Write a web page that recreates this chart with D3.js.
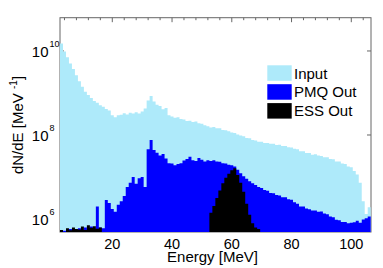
<!DOCTYPE html>
<html>
<head>
<meta charset="utf-8">
<script src="https://cdn.jsdelivr.net/npm/d3@7"></script>
<style>
  body { margin: 0; background: #fff; }
  svg text { font-family: "Liberation Sans", Arial, Helvetica, sans-serif; fill: #000; }
  .axisline { stroke: #666; stroke-width: 1; fill: none; }
</style>
</head>
<body>
<svg id="chart" width="383" height="268"></svg>
<script>
// ------------------------------
// ENERGY SPECTRA  Input / PMQ Out / ESS Out
// ------------------------------
// histogram bins are 1 MeV wide, centred on these energies
var energy = d3.range(3, 107);

// log10 of dN/dE [MeV^-1] per bin (null = below axis)
var inputLog = [
  10.18, 9.99, 9.85, 9.70, 9.57, 9.42, 9.28, 9.15, 9.03, 8.95,
  8.88, 8.81, 8.77, 8.71, 8.67, 8.62, 8.58, 8.47, 8.42, 8.47,
  8.48, 8.52, 8.49, 8.53, 8.51, 8.54, 8.51, 8.56, 8.63, 8.82,
  8.93, 8.80, 8.72, 8.69, 8.61, 8.64, 8.47, 8.44, 8.41, 8.42,
  8.38, 8.37, 8.33, 8.34, 8.31, 8.32, 8.28, 8.27, 8.23, 8.21,
  8.18, 8.19, 8.16, 8.16, 8.12, 8.11, 8.09, 8.06, 8.05, 8.01,
  7.99, 7.97, 7.93, 7.92, 7.88, 7.87, 7.84, 7.84, 7.81, 7.81,
  7.79, 7.79, 7.76, 7.77, 7.74, 7.74, 7.71, 7.70, 7.67, 7.66,
  7.61, 7.61, 7.57, 7.57, 7.53, 7.54, 7.51, 7.50, 7.47, 7.47,
  7.43, 7.42, 7.37, 7.37, 7.32, 7.31, 7.25, 7.23, 7.14, 7.06,
  6.86, 6.42, 6.12, 6.28];

var pmqLog = [
  null, 5.72, null, 5.76, 5.74, null, 5.78, 5.73, 5.80, 5.75,
  5.82, 5.76, 6.30, 5.80, 5.78, 6.45, 6.38, 6.24, 6.17, 6.34,
  6.42, 6.55, 6.76, 6.86, 7.00, 6.84, 6.97, 7.00, 6.76, 7.66,
  7.88, 7.64, 7.58, 7.51, 7.55, 7.44, 7.33, 7.32, 7.28, 7.31,
  7.33, 7.39, 7.43, 7.48, 7.40, 7.38, 7.45, 7.41, 7.37, 7.40,
  7.38, 7.40, 7.37, 7.36, 7.33, 7.32, 7.29, 7.28, 7.25, 7.17,
  7.09, 7.02, 6.96, 6.90, 6.85, 6.81, 6.76, 6.74, 6.69, 6.67,
  6.62, 6.61, 6.57, 6.56, 6.52, 6.52, 6.47, 6.46, 6.40, 6.36,
  6.30, 6.30, 6.25, 6.23, 6.20, 6.20, 6.17, 6.18, 6.13, 6.11,
  6.06, 6.04, 5.98, 5.97, 5.93, 5.93, 5.90, 5.91, 5.92, 5.96,
  5.91, 5.99, 6.02, 6.06];

var essLog = [
  5.74, null, 5.78, 5.73, 5.80, 5.76, 5.75, 5.82, 5.74, 5.85,
  5.79, 5.83, 5.77, 5.80, null, null, null, null, null, null,
  null, null, null, null, null, null, null, null, null, null,
  null, null, null, null, null, null, null, null, null, null,
  null, null, null, null, null, null, null, null, null, null,
  6.15, 6.31, 6.50, 6.68, 6.85, 6.98, 7.08, 7.16, 7.21, 7.05,
  6.86, 6.65, 6.36, 6.10, 5.90, 5.80, 5.76, null, null, null,
  null, null, null, null, null, null, null, null, null, null,
  null, null, null, null, null, null, null, null, null, null,
  null, null, null, null, null, null, null, null, null, null,
  null, null, null, null];

var seriesNames  = ["Input", "PMQ Out", "ESS Out"];
var seriesColors = ["#aeeafa", "#0000ff", "#000000"];
var seriesLogs   = [inputLog, pmqLog, essLog];

var xMajor = [20, 40, 60, 80, 100];
var xMinor = d3.range(4, 105, 4);
var yMajor = [1e6, 1e8, 1e10];

// ------------------------------
// SCALES
// ------------------------------
var plotL = 60, plotR = 371, plotT = 17.7, plotB = 232;

var x = d3.scaleLinear().domain([2.5, 106.6]).range([plotL, plotR]);
var y = d3.scaleLog().domain([4.9e5, 6.2e10]).range([plotB, plotT]);

var svg = d3.select("#chart");

// axes box sits under the data, like the original figure
svg.append("rect")
    .attr("class", "axisline")
    .attr("x", plotL).attr("y", plotT)
    .attr("width", plotR - plotL).attr("height", plotB - plotT);

var ticks = svg.append("g").attr("class", "axisline");

xMinor.forEach(function (t) {
    var len = xMajor.indexOf(t) >= 0 ? 4.5 : 2.5;
    ticks.append("line").attr("x1", x(t)).attr("x2", x(t)).attr("y1", plotT).attr("y2", plotT + len);
    ticks.append("line").attr("x1", x(t)).attr("x2", x(t)).attr("y1", plotB).attr("y2", plotB - len);
});
yMajor.forEach(function (t) {
    ticks.append("line").attr("x1", plotL).attr("x2", plotL + 4).attr("y1", y(t)).attr("y2", y(t));
    ticks.append("line").attr("x1", plotR).attr("x2", plotR - 4).attr("y1", y(t)).attr("y2", y(t));
});

// ------------------------------
// DATA (step filled histograms)
// ------------------------------
svg.append("clipPath").attr("id", "plotclip")
  .append("rect").attr("x", plotL).attr("y", plotT).attr("width", plotR - plotL).attr("height", plotB - plotT);

var area = d3.area()
    .curve(d3.curveStepAfter)
    .x(function (d) { return x(d.e); })
    .y0(plotB)
    .y1(function (d) { return d.v == null ? plotB : y(Math.pow(10, d.v)); });

var plot = svg.append("g").attr("clip-path", "url(#plotclip)");

seriesLogs.forEach(function (vals, s) {
    var pts = energy.map(function (e, i) { return {e: e - 0.5, v: vals[i]}; });
    // close the last bin
    pts.push({e: energy[energy.length - 1] + 0.5, v: vals[vals.length - 1]});
    plot.append("path")
        .datum(pts)
        .attr("d", area)
        .attr("fill", seriesColors[s]);
});

// ------------------------------
// TICK LABELS
// ------------------------------
svg.selectAll(".xlab")
    .data(xMajor)
  .enter().append("text")
    .attr("class", "xlab")
    .attr("x", function (d) { return x(d); })
    .attr("y", 248.7)
    .attr("text-anchor", "middle")
    .style("font-size", "14.5px")
    .text(function (d) { return d; });

yMajor.forEach(function (t) {
    svg.append("text")
        .attr("x", 48.5).attr("y", y(t) + 5.6)
        .attr("text-anchor", "end")
        .style("font-size", "15px")
        .text("10");
    svg.append("text")
        .attr("x", 49.5).attr("y", y(t) - 4.3)
        .style("font-size", "9px")
        .text(Math.round(Math.log10(t)));
});

// axis titles
svg.append("text")
    .attr("x", 212.5).attr("y", 261.5)
    .attr("text-anchor", "middle")
    .style("font-size", "15px")
    .text("Energy [MeV]");

var ylab = svg.append("text")
    .attr("transform", "translate(23,125) rotate(-90)")
    .attr("text-anchor", "middle")
    .style("font-size", "15px");
ylab.append("tspan").text("dN/dE [MeV ");
ylab.append("tspan").attr("dy", -6).style("font-size", "10px").text("-1");
ylab.append("tspan").attr("dy", 6).text("]");

// ------------------------------
// LEGEND
// ------------------------------
var legend = svg.append("g").attr("transform", "translate(267.3,65.3)");
seriesNames.forEach(function (name, i) {
    legend.append("rect")
        .attr("x", 0).attr("y", i * 18.9)
        .attr("width", 24.4).attr("height", 15.5)
        .attr("fill", seriesColors[i]);
    legend.append("text")
        .attr("x", 26.7).attr("y", i * 18.9 + 13.3)
        .style("font-size", "15px")
        .text(name);
});
</script>
</body>
</html>
